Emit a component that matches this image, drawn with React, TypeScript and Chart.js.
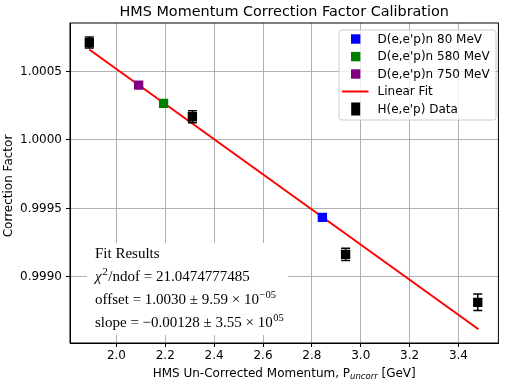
import React, { useEffect, useRef } from "react";
import { Chart, registerables } from "chart.js";
Chart.register(...registerables);

const chartTitle = "HMS Momentum Correction Factor Calibration";
const xAxisLabel = "HMS Un-Corrected Momentum, P";
const xAxisSub = "uncorr";
const xAxisUnit = " [GeV]";
const yAxisLabel = "Correction Factor";

const d80X = [2.843];
const d80Y = [0.999435];
const d580X = [2.193];
const d580Y = [1.000266];
const d750X = [2.091];
const d750Y = [1.0004];
const hX = [1.889, 2.311, 2.938, 3.479];
const hY = [1.00071, 1.000169, 0.999165, 0.998815];
const hErr = [0.00004, 0.000043, 0.000045, 0.00006];
const fitX = [1.889, 3.482];
const fitY = [1.00066, 0.998618];

const xTicks = [2.0, 2.2, 2.4, 2.6, 2.8, 3.0, 3.2, 3.4];
const yTicks = [0.999, 0.9995, 1.0, 1.0005];
const xMin = 1.81;
const xMax = 3.5635;
const yMin = 0.998518;
const yMax = 1.000853;

const fitTitle = "Fit Results";
const chiValue = "21.0474777485";
const offsetText = "offset = 1.0030 \u00b1 9.59 \u00d7 10";
const offsetExp = "\u221205";
const slopeText = "slope = \u22120.00128 \u00b1 3.55 \u00d7 10";
const slopeExp = "05";

const legendLabels = ["D(e,e'p)n 80 MeV", "D(e,e'p)n 580 MeV", "D(e,e'p)n 750 MeV", "Linear Fit", "H(e,e'p) Data"];

const SANS = "'DejaVu Sans', sans-serif";
const SERIF = "'Liberation Serif', serif";

const pts = (xs: number[], ys: number[]) => xs.map((x, i) => ({ x, y: ys[i] }));

const decorPlugin = {
  id: "decor",
  afterDatasetsDraw(chart: any) {
    const ctx = chart.ctx;
    const xs = chart.scales.x;
    const ys = chart.scales.y;
    ctx.save();
    ctx.strokeStyle = "#000";
    ctx.lineWidth = 1.5;
    hX.forEach((xv, i) => {
      const px = xs.getPixelForValue(xv);
      const top = ys.getPixelForValue(hY[i] + hErr[i]);
      const bot = ys.getPixelForValue(hY[i] - hErr[i]);
      ctx.beginPath();
      ctx.moveTo(px, top);
      ctx.lineTo(px, bot);
      ctx.moveTo(px - 4.5, top);
      ctx.lineTo(px + 4.5, top);
      ctx.moveTo(px - 4.5, bot);
      ctx.lineTo(px + 4.5, bot);
      ctx.stroke();
    });
    ctx.restore();
  },
  afterDraw(chart: any) {
    const ctx = chart.ctx;
    const a = chart.chartArea;
    ctx.save();
    ctx.strokeStyle = "#000";
    ctx.lineWidth = 1;
    ctx.strokeRect(a.left, a.top, a.right - a.left, a.bottom - a.top);

    // title
    ctx.fillStyle = "#000";
    ctx.font = "14.4px " + SANS;
    ctx.textAlign = "center";
    ctx.textBaseline = "alphabetic";
    const cx = (a.left + a.right) / 2;
    ctx.fillText(chartTitle, cx, 16);

    // x label
    ctx.font = "12px " + SANS;
    const w1 = ctx.measureText(xAxisLabel).width;
    const w3 = ctx.measureText(xAxisUnit).width;
    ctx.font = "italic 8.5px " + SANS;
    const w2 = ctx.measureText(xAxisSub).width;
    const sx = cx - (w1 + w2 + w3) / 2;
    ctx.textAlign = "left";
    ctx.font = "12px " + SANS;
    ctx.fillText(xAxisLabel, sx, 376.5);
    ctx.font = "italic 8.5px " + SANS;
    ctx.fillText(xAxisSub, sx + w1, 379);
    ctx.font = "12px " + SANS;
    ctx.fillText(xAxisUnit, sx + w1 + w2, 376.5);

    // y label
    ctx.save();
    ctx.translate(12, (a.top + a.bottom) / 2 + 3);
    ctx.rotate(-Math.PI / 2);
    ctx.textAlign = "center";
    ctx.fillText(yAxisLabel, 0, 0);
    ctx.restore();

    // fit results box
    ctx.fillStyle = "#fff";
    ctx.fillRect(87, 243, 201, 92);
    ctx.fillStyle = "#000";
    ctx.textAlign = "left";
    const tx = 95;
    ctx.font = "15px " + SERIF;
    ctx.fillText(fitTitle, tx, 258);
    let px = tx;
    ctx.font = "italic 15px " + SERIF;
    ctx.fillText("\u03c7", px, 281);
    px += ctx.measureText("\u03c7").width + 1;
    ctx.font = "10.5px " + SERIF;
    ctx.fillText("2", px, 275);
    px += ctx.measureText("2").width + 0.5;
    ctx.font = "15px " + SERIF;
    ctx.fillText("/ndof = " + chiValue, px, 281);
    ctx.fillText(offsetText, tx, 304);
    px = tx + ctx.measureText(offsetText).width + 0.5;
    ctx.font = "10.5px " + SERIF;
    ctx.fillText(offsetExp, px, 298);
    ctx.font = "15px " + SERIF;
    ctx.fillText(slopeText, tx, 327);
    px = tx + ctx.measureText(slopeText).width + 0.5;
    ctx.font = "10.5px " + SERIF;
    ctx.fillText(slopeExp, px, 321);

    // legend
    const lx = 339, ly = 30, lw = 157, lh = 90;
    const r = 3;
    ctx.beginPath();
    ctx.moveTo(lx + r, ly);
    ctx.arcTo(lx + lw, ly, lx + lw, ly + lh, r);
    ctx.arcTo(lx + lw, ly + lh, lx, ly + lh, r);
    ctx.arcTo(lx, ly + lh, lx, ly, r);
    ctx.arcTo(lx, ly, lx + lw, ly, r);
    ctx.closePath();
    ctx.fillStyle = "rgba(255,255,255,0.8)";
    ctx.fill();
    ctx.strokeStyle = "#cccccc";
    ctx.lineWidth = 1;
    ctx.stroke();
    const rows = [39, 56.6, 74, 91.5, 109];
    const colors = ["#0000ff", "#008000", "#800080", "#ff0000", "#000000"];
    ctx.font = "12px " + SANS;
    ctx.textBaseline = "middle";
    legendLabels.forEach((lab, i) => {
      const yy = rows[i];
      ctx.fillStyle = colors[i];
      if (i < 3) {
        ctx.fillRect(355.7 - 4.7, yy - 4.7, 9.4, 9.4);
      } else if (i === 3) {
        ctx.strokeStyle = colors[i];
        ctx.lineWidth = 2;
        ctx.beginPath();
        ctx.moveTo(342, yy);
        ctx.lineTo(368.5, yy);
        ctx.stroke();
      } else {
        ctx.fillRect(355.7 - 4.5, yy - 6.5, 9, 13);
      }
      ctx.fillStyle = "#000";
      ctx.fillText(lab, 377.5, yy + 0.5);
    });
    ctx.restore();
  },
};

export default function App() {
  const ref = useRef<HTMLCanvasElement | null>(null);
  useEffect(() => {
    if (!ref.current) return;
    const sq = { pointStyle: "rect" as const, pointRadius: 6.6, pointHoverRadius: 6.6, borderWidth: 0, showLine: false };
    const chart = new Chart(ref.current, {
      type: "scatter",
      data: {
        datasets: [
          { label: legendLabels[3], data: pts(fitX, fitY), showLine: true, borderColor: "#ff0000", borderWidth: 2, pointRadius: 0, backgroundColor: "#ff0000", order: 5 },
          { label: legendLabels[4], data: pts(hX, hY), backgroundColor: "#000000", borderColor: "#000000", ...sq, order: 4 },
          { label: legendLabels[0], data: pts(d80X, d80Y), backgroundColor: "#0000ff", borderColor: "#0000ff", ...sq, order: 1 },
          { label: legendLabels[1], data: pts(d580X, d580Y), backgroundColor: "#008000", borderColor: "#008000", ...sq, order: 2 },
          { label: legendLabels[2], data: pts(d750X, d750Y), backgroundColor: "#800080", borderColor: "#800080", ...sq, order: 3 },
        ],
      },
      options: {
        animation: false,
        responsive: false,
        devicePixelRatio: 1,
        layout: { padding: { top: 23, right: 3.3, left: 0, bottom: 0 } },
        plugins: { legend: { display: false }, title: { display: false }, tooltip: { enabled: false } },
        scales: {
          x: {
            type: "linear",
            min: xMin,
            max: xMax,
            afterBuildTicks: (s: any) => { s.ticks = xTicks.map((v) => ({ value: v })); },
            afterFit: (s: any) => { s.height = 39; },
            ticks: { font: { family: "DejaVu Sans", size: 12 }, color: "#000", padding: 2, maxRotation: 0, autoSkip: false, callback: (v: any) => Number(v).toFixed(1) },
            grid: { color: "#b0b0b0", lineWidth: 1, tickLength: 4, tickColor: "#000" },
            border: { display: true, color: "#000", width: 1 },
          },
          y: {
            type: "linear",
            min: yMin,
            max: yMax,
            afterBuildTicks: (s: any) => { s.ticks = yTicks.map((v) => ({ value: v })); },
            afterFit: (s: any) => { s.width = 70; },
            ticks: { font: { family: "DejaVu Sans", size: 12 }, color: "#000", padding: 4, autoSkip: false, callback: (v: any) => Number(v).toFixed(4) },
            grid: { color: "#b0b0b0", lineWidth: 1, tickLength: 4, tickColor: "#000" },
            border: { display: true, color: "#000", width: 1 },
          },
        },
      },
      plugins: [decorPlugin],
    });
    return () => chart.destroy();
  }, []);
  return (
    <div style={{ position: "fixed", left: 0, top: 0, width: 505, height: 382, background: "#fff" }}>
      <canvas ref={ref} width={505} height={382} style={{ display: "block", width: 505, height: 382 }} />
    </div>
  );
}
